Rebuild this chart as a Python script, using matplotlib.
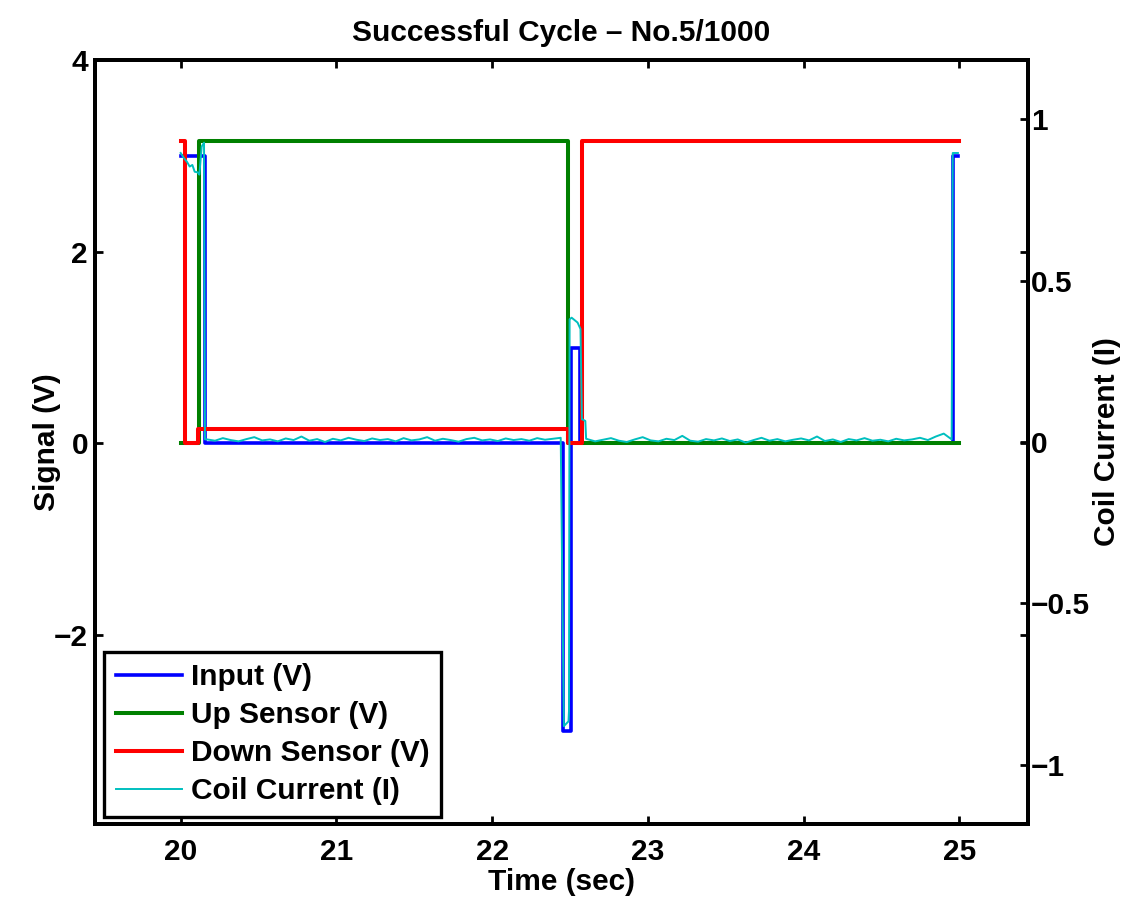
import numpy as np
import matplotlib
matplotlib.use("Agg")
import matplotlib.pyplot as plt

plt.rcParams['font.family'] = ['Liberation Sans', 'DejaVu Sans']
plt.rcParams['font.weight'] = 'bold'

FS = 21.5

# --- data (time in sec) ---
input_t = [20.00, 20.154, 20.154, 22.455, 22.455, 22.505, 22.505, 22.562, 22.562, 24.957, 24.957, 24.99]
input_v = [3.0, 3.0, 0.0, 0.0, -3.0, -3.0, 1.0, 1.0, 0.0, 0.0, 3.0, 3.0]

up_t = [20.00, 20.117, 20.117, 22.485, 22.485, 25.00]
up_v = [0.0, 0.0, 3.15, 3.15, 0.0, 0.0]

down_t = [20.00, 20.026, 20.026, 20.11, 20.11, 22.485, 22.485, 22.576, 22.576, 25.00]
down_v = [3.15, 3.15, 0.0, 0.0, 0.15, 0.15, 0.0, 0.0, 3.15, 3.15]

# coil current (right axis), pieces
coil_start_t = [20.00, 20.02, 20.04, 20.058, 20.075, 20.09, 20.11, 20.12, 20.135, 20.15, 20.156]
coil_start_v = [0.895, 0.88, 0.868, 0.853, 0.858, 0.837, 0.835, 0.828, 0.915, 0.927, 0.008]

coil_noise1_v = [0.008, 0.004, 0.012, 0.006, 0.002, 0.009, 0.015, 0.005, 0.008, 0.002,
                 0.011, 0.006, 0.017, 0.004, 0.009, 0.000, 0.010, 0.005, 0.013, 0.007,
                 0.003, 0.011, 0.006, 0.009, 0.002, 0.012, 0.005, 0.008, 0.015, 0.004,
                 0.010, 0.006, 0.001, 0.009, 0.013, 0.005, 0.008, 0.003, 0.011, 0.006,
                 0.009, 0.004, 0.012, 0.007, 0.010, 0.013]

coil_mid_t = [22.46, 22.49, 22.493, 22.497, 22.51, 22.548, 22.567, 22.576, 22.58, 22.598, 22.603]
coil_mid_v = [-0.88, -0.865, -0.833, 0.38, 0.385, 0.37, 0.35, 0.07, 0.07, 0.065, 0.010]

coil_noise2_v = [0.009, 0.002, 0.007, 0.012, 0.004, 0.000, 0.008, 0.015, 0.005, 0.002,
                 0.010, 0.006, 0.019, 0.004, 0.001, 0.009, 0.005, 0.011, 0.003, 0.008,
                 -0.002, 0.006, 0.013, 0.004, 0.009, 0.002, 0.007, 0.011, 0.005, 0.017,
                 0.003, 0.008, 0.000, 0.009, 0.005, 0.012, 0.004, 0.007, 0.002, 0.010,
                 0.005, 0.008, 0.013, 0.006, 0.017, 0.026, 0.008]

coil_end_t = [24.957, 24.99]
coil_end_v = [0.895, 0.895]

left_ticks = [-2, 0, 2, 4]
left_labels = ['\u22122', '0', '2', '4']
right_ticks = [-1, -0.5, 0, 0.5, 1]
right_labels = ['\u22121', '\u22120.5', '0', '0.5', '1']
x_ticks = [20, 21, 22, 23, 24, 25]

# sample times of the noisy flat stretches
noise1_t = np.linspace(20.17, 22.44, len(coil_noise1_v))
noise2_t = np.linspace(22.61, 24.95, len(coil_noise2_v))
coil_t = np.concatenate([coil_start_t, noise1_t, coil_mid_t, noise2_t, coil_end_t])
coil_v = np.concatenate([coil_start_v, coil_noise1_v, coil_mid_v, coil_noise2_v, coil_end_v])

fig = plt.figure(figsize=(11.22, 8.97), dpi=100)
ax = fig.add_axes([95 / 1122, 1 - 824 / 897, 933 / 1122, 764 / 897])
ax2 = ax.twinx()

h1, = ax.plot(input_t, input_v, color=(0, 0, 1), lw=2.6, label='Input (V)')
h2, = ax.plot(up_t, up_v, color=(0, 0.5, 0), lw=2.9, label='Up Sensor (V)')
h3, = ax.plot(down_t, down_v, color=(1, 0, 0), lw=2.9, label='Down Sensor (V)')
h4, = ax2.plot(coil_t, coil_v, color=(0, 0.75, 0.75), lw=1.4, label='Coil Current (I)')

ax.set_xlim(19.45, 25.44)
ax.set_ylim(-3.97, 4.0)
ax2.set_ylim(-1.183, 1.183)

ax.set_xticks(x_ticks)
ax.set_xticklabels([str(x) for x in x_ticks])
ax.set_yticks(left_ticks)
ax.set_yticklabels(left_labels)
ax2.set_yticks(right_ticks)
ax2.set_yticklabels(right_labels)

ax.tick_params(axis='both', direction='in', length=6, width=2, labelsize=FS)
ax.tick_params(axis='x', top=True, pad=10)
ax.tick_params(axis='y', right=True, pad=5)
ax2.tick_params(axis='y', direction='in', length=6, width=2, labelsize=FS, pad=2)

for a in (ax, ax2):
    for s in a.spines.values():
        s.set_linewidth(2.8)

ax.set_title('Successful Cycle \u2013 No.5/1000', fontsize=FS, fontweight='bold', pad=14)
ax.set_xlabel('Time (sec)', fontsize=FS, fontweight='bold')
ax.set_ylabel('Signal (V)', fontsize=FS, fontweight='bold')
ax2.set_ylabel('Coil Current (I)', fontsize=FS, fontweight='bold')
ax.xaxis.set_label_coords(0.5, -0.057)
ax.yaxis.set_label_coords(-0.036, 0.5)
ax2.yaxis.set_label_coords(1.07, 0.5)

leg = ax2.legend([h1, h2, h3, h4], [h.get_label() for h in (h1, h2, h3, h4)],
                 loc='lower left', bbox_to_anchor=(104 / 1122, 1 - 817 / 897),
                 bbox_transform=fig.transFigure, borderaxespad=0, fontsize=FS,
                 fancybox=False, edgecolor='black', framealpha=1,
                 handlelength=2.2, handletextpad=0.3, labelspacing=0.33, borderpad=0.4)
leg.get_frame().set_linewidth(2.4)

fig.savefig('out.png', dpi=100, facecolor='white')
